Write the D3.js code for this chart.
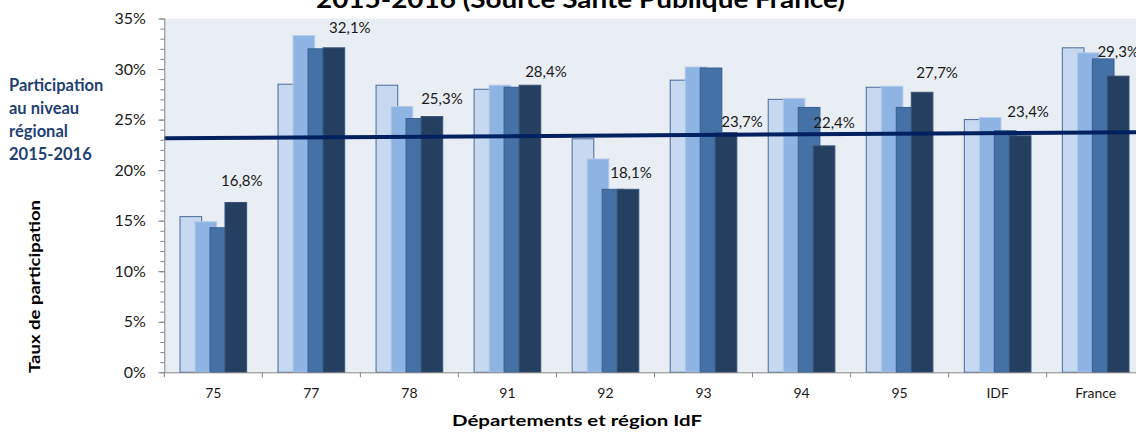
<!DOCTYPE html>
<html>
<head>
<meta charset="utf-8">
<script src="https://cdn.jsdelivr.net/npm/d3@7"></script>
<style>
body { margin: 0; background: #fff; }
text { font-family: Lato, "Open Sans", sans-serif; }
</style>
</head>
<body>
<svg id="chart" width="1136" height="439"></svg>
<script>
// categories and series (participation rates in %)
var categories = ["75", "77", "78", "91", "92", "93", "94", "95", "IDF", "France"];
var seriesNames = ["campagne 1", "campagne 2", "campagne 3", "2015-2016"];
var serie1 = [15.4, 28.5, 28.4, 28.0, 23.1, 28.9, 27.0, 28.2, 25.0, 32.1];
var serie2 = [14.9, 33.3, 26.3, 28.4, 21.1, 30.2, 27.1, 28.3, 25.2, 31.6];
var serie3 = [14.3, 32.0, 25.1, 28.2, 18.1, 30.1, 26.2, 26.2, 23.9, 31.0];
var serie4 = [16.8, 32.1, 25.3, 28.4, 18.1, 23.7, 22.4, 27.7, 23.4, 29.3];
var yTicks = [0, 5, 10, 15, 20, 25, 30, 35];
// regional line (2015-2016), value at left and right edge of the plot
var regionalLine = [23.15, 23.75];

// label nudges (labels were moved by hand in the original) [dx, dy from bar top]
var labelNudge = [[6, -21], [16, -20], [10, -18], [16, -13], [3, -16], [16, -11], [10, -23], [15, -19], [8, -24], [0, -24]];

var fills = ["#C6D9F0", "#8EB4E3", "#4472A7", "#253F60"];
var strokes = ["#4A6B9A", "#B4CBE8", "#355F92", "#3A5678"];

var svg = d3.select("#chart");
var plotLeft = 164.3, plotRight = 1144.7, plotTop = 18.5, plotBottom = 372.3;

var x = d3.scaleBand()
  .domain(categories)
  .range([plotLeft, plotRight])
  .paddingInner(0.32)
  .paddingOuter(0.16);

var y = d3.scaleLinear()
  .domain([0, 35])
  .range([plotBottom, plotTop]);

// plot background
svg.append("rect")
  .attr("x", plotLeft)
  .attr("y", plotTop)
  .attr("width", plotRight - plotLeft)
  .attr("height", plotBottom - plotTop)
  .attr("fill", "#E9EDF4");

// bars: each series overlaps the previous one
var series = [serie1, serie2, serie3, serie4];
var bw = x.bandwidth();
var barStep = bw * 0.225, barW = bw * 0.325;

series.forEach(function(values, s) {
  svg.append("g")
    .attr("class", "serie" + s)
    .selectAll("rect")
    .data(values)
    .enter().append("rect")
    .attr("x", function(d, i) { return x(categories[i]) + s * barStep; })
    .attr("y", function(d) { return y(d); })
    .attr("width", barW)
    .attr("height", function(d) { return plotBottom - y(d); })
    .attr("fill", fills[s])
    .attr("stroke", strokes[s])
    .attr("stroke-width", 1);
});

// regional line
var xLin = d3.scaleLinear().domain([0, 1]).range([plotLeft, plotRight]);
svg.append("line")
  .attr("x1", xLin(0))
  .attr("y1", y(regionalLine[0]))
  .attr("x2", xLin(1))
  .attr("y2", y(regionalLine[1]))
  .attr("stroke", "#002060")
  .attr("stroke-width", 4);

// data labels on last series
var fmt = function(v) { return d3.format(".1f")(v).replace(".", ",") + "%"; };
svg.append("g")
  .selectAll("text")
  .data(serie4)
  .enter().append("text")
  .attr("x", function(d, i) { return x(categories[i]) + 3 * barStep + barW / 2 + labelNudge[i][0]; })
  .attr("y", function(d, i) { return y(d) + labelNudge[i][1] + 5; })
  .attr("text-anchor", "middle")
  .attr("font-size", 15)
  .attr("fill", "#1a1a1a")
  .text(fmt);

// y axis
var yAxisMinor = svg.append("g")
  .attr("transform", "translate(" + plotLeft + ",0)")
  .call(d3.axisLeft(y).tickValues(d3.range(0, 36, 1)).tickSize(4).tickFormat(""));
yAxisMinor.selectAll("line").attr("stroke", "#868686");
yAxisMinor.select(".domain").remove();

var yAxis = svg.append("g")
  .attr("transform", "translate(" + plotLeft + ",0)")
  .call(d3.axisLeft(y).tickValues(yTicks).tickSize(6).tickPadding(12.5)
    .tickFormat(function(d) { return d + "%"; }));
yAxis.select(".domain").attr("stroke", "#868686").attr("d", "M0.5," + plotTop + "V" + plotBottom);
yAxis.selectAll("line").attr("stroke", "#868686");
yAxis.selectAll("text")
  .attr("font-family", "Lato, sans-serif")
  .attr("font-size", 16)
  .attr("fill", "#1a1a1a");

// x axis
var xAxis = svg.append("g")
  .attr("transform", "translate(0," + plotBottom + ")")
  .call(d3.axisBottom(x).tickSize(0).tickPadding(16));
xAxis.select(".domain").remove();
xAxis.selectAll("text")
  .attr("font-family", "Lato, sans-serif")
  .attr("font-size", 14)
  .attr("fill", "#1a1a1a");

svg.append("line")
  .attr("x1", plotLeft)
  .attr("x2", plotRight)
  .attr("y1", plotBottom + 0.5)
  .attr("y2", plotBottom + 0.5)
  .attr("stroke", "#868686");

svg.append("g")
  .selectAll("line")
  .data(d3.range(categories.length + 1))
  .enter().append("line")
  .attr("x1", function(i) { return plotLeft + i * x.step(); })
  .attr("x2", function(i) { return plotLeft + i * x.step(); })
  .attr("y1", plotBottom)
  .attr("y2", plotBottom + 5)
  .attr("stroke", "#868686");

// titles (the original text is drawn wider than Lato, so stretch it a little)
svg.append("text")
  .attr("x", 316)
  .attr("y", 8)
  .attr("font-size", 24)
  .attr("font-weight", "bold")
  .attr("fill", "#000")
  .attr("textLength", 529)
  .attr("lengthAdjust", "spacingAndGlyphs")
  .text("2015-2016  (Source Santé Publique France)");

svg.append("text")
  .attr("x", 452)
  .attr("y", 426)
  .attr("font-size", 16)
  .attr("font-weight", "bold")
  .attr("fill", "#000")
  .attr("textLength", 250)
  .attr("lengthAdjust", "spacingAndGlyphs")
  .text("Départements et région IdF");

svg.append("text")
  .attr("transform", "translate(40,373) rotate(-90)")
  .attr("font-size", 16)
  .attr("font-weight", "bold")
  .attr("fill", "#000")
  .attr("textLength", 173)
  .attr("lengthAdjust", "spacingAndGlyphs")
  .text("Taux de participation");

// regional annotation
var note = ["Participation", "au niveau", "régional", "2015-2016"];
svg.append("g")
  .selectAll("text")
  .data(note)
  .enter().append("text")
  .attr("x", 9)
  .attr("y", function(d, i) { return 91 + i * 23; })
  .attr("font-size", 16.5)
  .attr("font-weight", "bold")
  .attr("fill", "#1F3F73")
  .text(function(d) { return d; });
</script>
</body>
</html>
